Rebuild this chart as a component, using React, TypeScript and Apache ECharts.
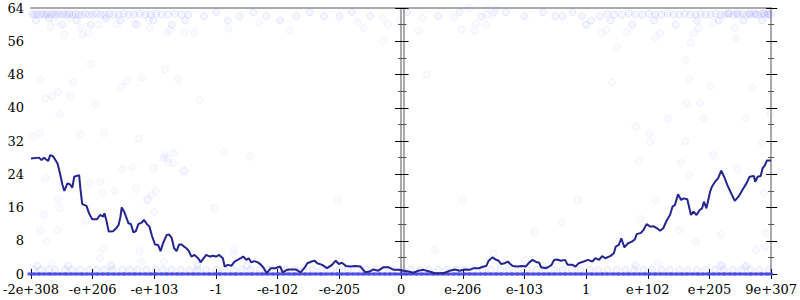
import React, { useEffect, useRef } from 'react';
import * as echarts from 'echarts';

// x positions are on the chart's symmetric log-like scale: one tick every 100 units
const tickValues = [-600, -500, -400, -300, -200, -100, 0, 100, 200, 300, 400, 500, 600];
const tickLabels = ['-2e+308', '-e+206', '-e+103', '-1', '-e-102', '-e-205', '0', 'e-206', 'e-103', '1', 'e+102', 'e+205', '9e+307'];
const yTicks = [0, 8, 16, 24, 32, 40, 48, 56, 64];

const lineX = [
  -600, -587, -583, -579, -576, -572, -569, -565, -562, -557,
  -553, -549, -546, -541, -537, -533, -530, -522, -520, -517,
  -510, -506, -501, -493, -488, -483, -481, -478, -474, -467,
  -462, -458, -455, -453, -449, -446, -442, -438, -434, -430,
  -426, -420, -417, -412, -408, -404, -399, -394, -390, -386,
  -380, -376, -372, -368, -364, -360, -356, -352, -348, -344,
  -340, -335, -329, -325, -320, -316, -310, -305, -300, -295,
  -289, -286, -281, -275, -270, -265, -259, -256, -251, -247,
  -243, -238, -232, -227, -223, -218, -211, -204, -196, -192,
  -185, -179, -171, -163, -157, -152, -145, -140, -136, -128,
  -120, -112, -106, -101, -96, -89, -82, -74, -66, -58,
  -51, -45, -37, -29, -20, -12, -4, 4, 12, 20,
  28, 36, 46, 55, 63, 71, 79, 87, 95, 103,
  111, 118, 126, 134, 138, 142, 148, 153, 158, 162,
  168, 173, 177, 181, 189, 196, 202, 208, 213, 219,
  224, 227, 235, 240, 244, 248, 253, 259, 266, 270,
  278, 283, 288, 296, 303, 310, 315, 321, 326, 331,
  339, 345, 348, 353, 357, 362, 368, 374, 379, 382,
  389, 393, 398, 404, 409, 415, 420, 425, 431, 436,
  440, 444, 449, 454, 458, 464, 470, 474, 479, 484,
  488, 491, 495, 501, 504, 509, 514, 519, 524, 529,
  534, 541, 547, 554, 560, 565, 572, 574, 578, 583,
  586, 590, 593, 600,
];
const lineY = [
  27.8, 28.0, 27.4, 28, 27.6, 27.2, 28.6, 28.4, 27.8, 26.6,
  24.2, 21.4, 20, 21.8, 21.6, 20.8, 23.4, 23.8, 20.6, 16.8,
  16.4, 14.6, 13.2, 13.2, 14.2, 13.8, 14.6, 13, 10.2, 10.3,
  11, 11.8, 13.8, 16, 15, 13.8, 12.2, 12, 10, 10.3,
  12, 12.4, 13, 12, 11.4, 9.2, 7.1, 7.0, 5.5, 7.4,
  9.4, 9.5, 8.7, 6.2, 5.5, 7.1, 7.1, 6.6, 6.2, 5.5,
  4.2, 4.6, 3.8, 2.8, 3.8, 4.6, 4.2, 4.4, 4.2, 4.6,
  3.8, 1.8, 2.2, 2.0, 3.0, 3.4, 3.9, 4.2, 3.4, 3.8,
  2.8, 3.1, 2.8, 2.2, 1.5, 0.2, 1.4, 1.4, 1.8, 0.4,
  1.0, 1.1, 1.1, 0.4, 1.4, 2.6, 3.0, 3.2, 2.6, 2.2,
  1.4, 2.2, 3.2, 2.4, 2.7, 1.9, 1.8, 1.9, 1.8, 0.4,
  0.6, 1.1, 0.8, 1.6, 1.6, 1.0, 1.0, 0.8, 0.6, 0.3,
  0.8, 1.0, 0.6, 0.2, 0.2, 0.3, 0.8, 1.1, 0.8, 1.1,
  1.0, 1.4, 1.4, 1.8, 1.9, 3.2, 4.0, 3.5, 3.2, 2.4,
  2.6, 3.0, 2.4, 1.9, 1.8, 1.9, 1.8, 2.8, 3.4, 2.9,
  2.7, 1.6, 1.4, 1.8, 2.2, 3.4, 3.5, 3.2, 3.4, 2.2,
  2.2, 1.8, 2.6, 3.0, 3.4, 3.0, 3.8, 3.4, 4.3, 3.8,
  4.3, 5.0, 6.6, 7.0, 8.6, 6.4, 7.4, 7.8, 8.3, 9.6,
  9.9, 10.6, 12, 11.4, 11.5, 11, 10.4, 11, 13, 14.2,
  16.2, 16.6, 19.2, 17.8, 18.2, 18, 14.2, 15, 14.2, 15.4,
  15.8, 17.4, 15.8, 19.8, 21, 22.2, 23, 24.9, 23.3, 21.4,
  19.8, 17.6, 18.6, 20.4, 21.8, 23.4, 23.6, 22.2, 23.4, 23.6,
  25.4, 26.2, 27.3, 27.3,
];

// faint samples near the top (60-63)
const topPoints: number[][] = [
  [-598, 62.5], [-594, 62.4], [-590, 62.6], [-585, 62.4], [-581, 62.6], [-577, 62.4], [-573, 62.6], [-568, 62.4], [-564, 62.6], [-560, 62.4],
  [-556, 62.6], [-551, 62.4], [-547, 62.6], [-542, 62.4], [-538, 62.6], [-533, 62.4], [-528, 62.6], [-523, 62.4], [-518, 62.4], [-512, 62.6],
  [-506, 62.4], [-500, 62.4], [-494, 62.6], [-487, 62.4], [-480, 62.4], [-473, 62.6], [-466, 62.4], [-458, 62.4], [-450, 62.6], [-442, 62.4],
  [-433, 62.4], [-424, 62.6], [-415, 62.4], [-406, 62.4], [-397, 62.6], [-388, 62.4], [-378, 62.4], [-367, 62.6], [-356, 62.4], [-345, 62.4],
  [-592, 61], [-571, 61.5], [-549, 60], [-526, 61], [-503, 60], [-478, 61.5], [-455, 61], [-429, 60], [-402, 61], [-372, 60], [-350, 61],
  [-320, 62], [-300, 63], [-281, 61], [-262, 62], [-240, 63], [-218, 62], [-196, 61], [-170, 62], [-148, 63], [-125, 62],
  [-100, 62], [-80, 63], [-50, 62], [10, 63], [60, 62], [95, 63], [130, 62], [170, 63], [200, 62], [230, 63], [250, 62],
  [262, 62], [278, 63], [293, 62], [308, 61], [322, 62], [334, 62.6], [346, 62.4], [358, 62.4], [369, 62.6], [380, 62.4],
  [391, 62.4], [402, 62.6], [412, 62.4], [422, 62.4], [432, 62.6], [442, 62.4], [451, 62.4], [460, 62.6], [469, 62.4], [478, 62.4],
  [486, 62.6], [494, 62.4], [502, 62.4], [510, 62.6], [518, 62.4], [525, 62.4], [532, 62.6], [539, 62.4], [546, 62.4], [553, 62.6],
  [560, 62.4], [566, 62.4], [572, 62.6], [578, 62.4], [584, 62.6], [590, 62.4], [595, 62.6], [599, 62.4],
  [300, 60], [340, 61], [375, 60], [410, 61], [445, 60], [480, 61], [515, 61], [555, 61], [585, 61],
  [530, 62.7], [545, 62.7], [565, 62.7], [575, 62.5], [588, 62.7], [596, 62.5],
];

// faint samples scattered through the middle of the range
const midPoints: number[][] = [
  [-569, 59.4], [-561, 60.6], [-546, 57.5], [-536, 61.6], [-519, 59.2], [-517, 57.5], [-507, 58], [-503, 50.5], [-490, 60], [-461, 60],
  [-432, 60.2], [-409, 61.1], [-408, 59.2], [-383, 49.3], [-380, 58], [-375, 58.7], [-351, 58.2], [-335, 58], [-585, 46.7], [-532, 46],
  [-453, 45], [-445, 46.4], [-420, 47.4], [-361, 46.9], [-577, 42.3], [-565, 42.8], [-556, 43.8], [-536, 42.8], [-496, 40.9], [-554, 38.5],
  [-520, 33.7], [-482, 33.9], [-585, 33.9], [-598, 33], [-425, 32.5], [-383, 28.6], [-380, 27.9], [-369, 29.1], [-377, 26.7], [-370, 26.7],
  [-435, 25.7], [-451, 25.3], [-401, 25.5], [-351, 24.8], [-577, 23.1], [-504, 21.9], [-487, 22.1], [-464, 20], [-483, 19.5], [-430, 20.5],
  [-398, 20], [-404, 19], [-411, 18], [-327, 41.9], [-556, 18], [-554, 15.9], [-580, 14.2], [-585, 10.6], [-574, 7.9], [-567, 2.6],
  [-557, 10.6], [-511, 12.8], [-488, 3.8], [-483, 6], [-412, 17.8], [-400, 14.9], [-424, 5.5], [-420, 3.1], [-385, 2.9], [-385, 27.9],
  [-353, 24.8], [-303, 15.9], [-288, 29.4], [-245, 28.2], [-271, 6], [-272, 4.8], [-103, 17.8], [55, 5.8], [100, 17.8], [150, 5],
  [216, 10.1], [261, 12.3], [287, 17.8], [201, 3.4], [385, 27.2], [454, 26.7], [506, 28.6], [412, 17.8], [451, 10.6], [388, 13.2],
  [478, 7.7], [519, 9.4], [467, 23.8], [517, 2.2], [557, 1.7], [575, 5.8], [590, 6.5], [590, 9.9], [588, 19.5], [417, 2.6],
  [462, 41.1], [485, 41.1], [380, 35.4], [403, 33.9], [432, 37.3], [491, 37.5], [559, 37.5], [404, 31.8], [461, 32], [585, 31.5],
  [546, 25.3], [599, 38.5], [519, 21.4], [350, 54.6], [462, 51.3], [469, 55.6], [543, 56.8], [342, 46], [467, 46.9], [501, 45.2],
  [569, 44.8], [412, 57], [420, 58], [474, 58], [482, 59.2], [506, 60.4], [325, 58], [333, 58.7], [366, 58.2], [541, 59.2],
  [-71, 60.6], [-61, 59.2], [-29, 61.4], [-21, 60], [-2, 61.1], [29, 58.5], [35, 61.6], [-29, 56], [42, 47.9], [85, 61.8],
  [98, 58.9], [119, 58.5], [121, 60.2], [137, 60], [139, 62.4], [148, 62.4], [151, 63], [111, 64], [139, 64], [155, 64],
  [-280, 59], [-230, 60.5], [-180, 58.5],
];

// faint samples just above zero
const lowX = [
  -596, -584, -571, -560, -545, -533, -520, -506, -494, -481, -468, -452, -440, -427, -413, -398, -386, -372, -357, -343,
  -330, -316, -300, -287, -272, -258, -244, -229, -214, -200, -187, -172, -158, -143, -129, -114, -100, -86, -72, -57,
  -43, -28, -14, 2, 16, 31, 45, 60, 74, 89, 103, 118, 132, 146, 161, 175, 190, 204, 219, 233,
  248, 262, 277, 291, 306, 320, 335, 349, 364, 378, 393, 407, 422, 436, 451, 465, 480, 494, 509, 523,
  538, 552, 567, 581, 596,
];
const lowY2X = [-590, -540, -470, -330, -250, 230, 380, 520, 560];

// dense samples exactly at zero
const zeroX = [
  -600, -591, -583, -574, -566, -557, -548, -540, -531, -522, -514, -505, -497, -488, -479, -471, -462, -453, -445, -436,
  -428, -419, -410, -402, -393, -384, -376, -367, -359, -350, -341, -333, -324, -315, -307, -298, -290, -281, -272, -264,
  -255, -246, -238, -229, -221, -212, -203, -195, -186, -177, -169, -160, -152, -143, -134, -126, -117, -108, -100, -91,
  -83, -74, -65, -57, -48, -39, -31, -22, -14, -5, 4, 12, 21, 29, 38, 47, 55, 64, 72, 81,
  90, 98, 107, 115, 124, 133, 141, 150, 158, 167, 176, 184, 193, 201, 210, 219, 227, 236, 244, 253,
  262, 270, 279, 287, 296, 305, 313, 322, 330, 339, 348, 356, 365, 373, 382, 391, 399, 408, 416, 425,
  434, 442, 451, 459, 468, 477, 485, 494, 502, 511, 520, 528, 537, 545, 554, 563, 571, 580, 588, 597,
];

const FONT = "'DejaVu Serif', 'Liberation Serif', serif";
const AXIS_GRAY = '#aaaaaa';

function makeY(position: 'left' | 'right', offset: number, inside: boolean, showLine: boolean, showLabel: boolean, len: number) {
  return {
    type: 'value',
    position,
    offset,
    min: yTicks[0],
    max: yTicks[yTicks.length - 1],
    interval: 8,
    splitLine: { show: false },
    axisLine: { show: showLine, lineStyle: { color: AXIS_GRAY, width: 2 } },
    axisTick: { show: true, inside, length: len, lineStyle: { color: '#000', width: 1 } },
    minorTick: { show: true, splitNumber: 2, length: 3, lineStyle: { color: '#555', width: 1 } },
    axisLabel: { show: showLabel, fontFamily: FONT, fontSize: 13, color: '#000', margin: 7 },
  };
}

export default function App() {
  const ref = useRef<HTMLDivElement>(null);
  useEffect(() => {
    document.body.style.margin = '0';
    if (!ref.current) return;
    const chart = echarts.init(ref.current, undefined, { renderer: 'svg' });
    const xBase = {
      type: 'value',
      min: tickValues[0],
      max: tickValues[tickValues.length - 1],
      interval: 100,
      splitLine: { show: false },
    };
    const veryFaint = {
      color: 'rgba(110,110,255,0.035)',
      borderColor: 'rgba(100,100,255,0.1)',
      borderWidth: 1,
    };
    const bandFaint = {
      color: 'rgba(110,110,255,0.08)',
      borderColor: 'rgba(90,90,255,0.16)',
      borderWidth: 1,
    };
    chart.setOption({
      animation: false,
      grid: { left: 28, right: 27, top: 8, bottom: 26, containLabel: false },
      xAxis: [
        {
          ...xBase,
          position: 'bottom',
          axisLine: { show: true, onZero: false, lineStyle: { color: AXIS_GRAY, width: 2 } },
          axisTick: { show: true, inside: false, length: 5, lineStyle: { color: '#000', width: 1 } },
          axisLabel: {
            show: true,
            fontFamily: FONT,
            fontSize: 13,
            color: '#000',
            margin: 9,
            showMinLabel: true,
            showMaxLabel: true,
            formatter: (v: number) => {
              const i = tickValues.indexOf(Math.round(v));
              return i >= 0 ? tickLabels[i] : '';
            },
          },
        },
        {
          ...xBase,
          position: 'bottom',
          axisLine: { show: false, onZero: false },
          axisTick: { show: true, inside: true, length: 5, lineStyle: { color: '#000', width: 1 } },
          axisLabel: { show: false },
        },
        {
          ...xBase,
          position: 'top',
          axisLine: { show: true, onZero: false, lineStyle: { color: AXIS_GRAY, width: 2 } },
          axisTick: { show: false },
          axisLabel: { show: false },
        },
      ],
      yAxis: [
        makeY('left', 0, false, true, true, 6),
        makeY('left', 0, true, false, false, 5),
        makeY('left', -372.5, false, true, false, 5),
        makeY('left', -372.5, true, false, false, 5),
        makeY('right', 0, false, true, false, 6),
        makeY('right', 0, true, false, false, 5),
      ],
      series: [
        {
          type: 'scatter',
          xAxisIndex: 0,
          yAxisIndex: 0,
          symbol: 'circle',
          symbolSize: 7,
          itemStyle: veryFaint,
          data: midPoints,
          z: 2,
        },
        {
          type: 'scatter',
          xAxisIndex: 0,
          yAxisIndex: 0,
          symbol: 'circle',
          symbolSize: 7,
          itemStyle: bandFaint,
          data: [...topPoints, ...lowX.map((x) => [x, 1]), ...lowY2X.map((x) => [x, 2])],
          z: 2,
        },
        {
          type: 'scatter',
          xAxisIndex: 0,
          yAxisIndex: 0,
          symbol: 'rect',
          symbolSize: [7, 3],
          itemStyle: { color: 'rgb(72,72,228)', opacity: 0.9 },
          data: zeroX.map((x) => [x, 0]),
          z: 3,
        },
        {
          type: 'line',
          xAxisIndex: 0,
          yAxisIndex: 0,
          showSymbol: false,
          symbol: 'none',
          lineStyle: { color: '#25258f', width: 2 },
          data: lineX.map((x, i) => [x, lineY[i]]),
          z: 4,
        },
      ],
    });
    return () => chart.dispose();
  }, []);
  return <div ref={ref} style={{ width: 800, height: 300 }} />;
}
